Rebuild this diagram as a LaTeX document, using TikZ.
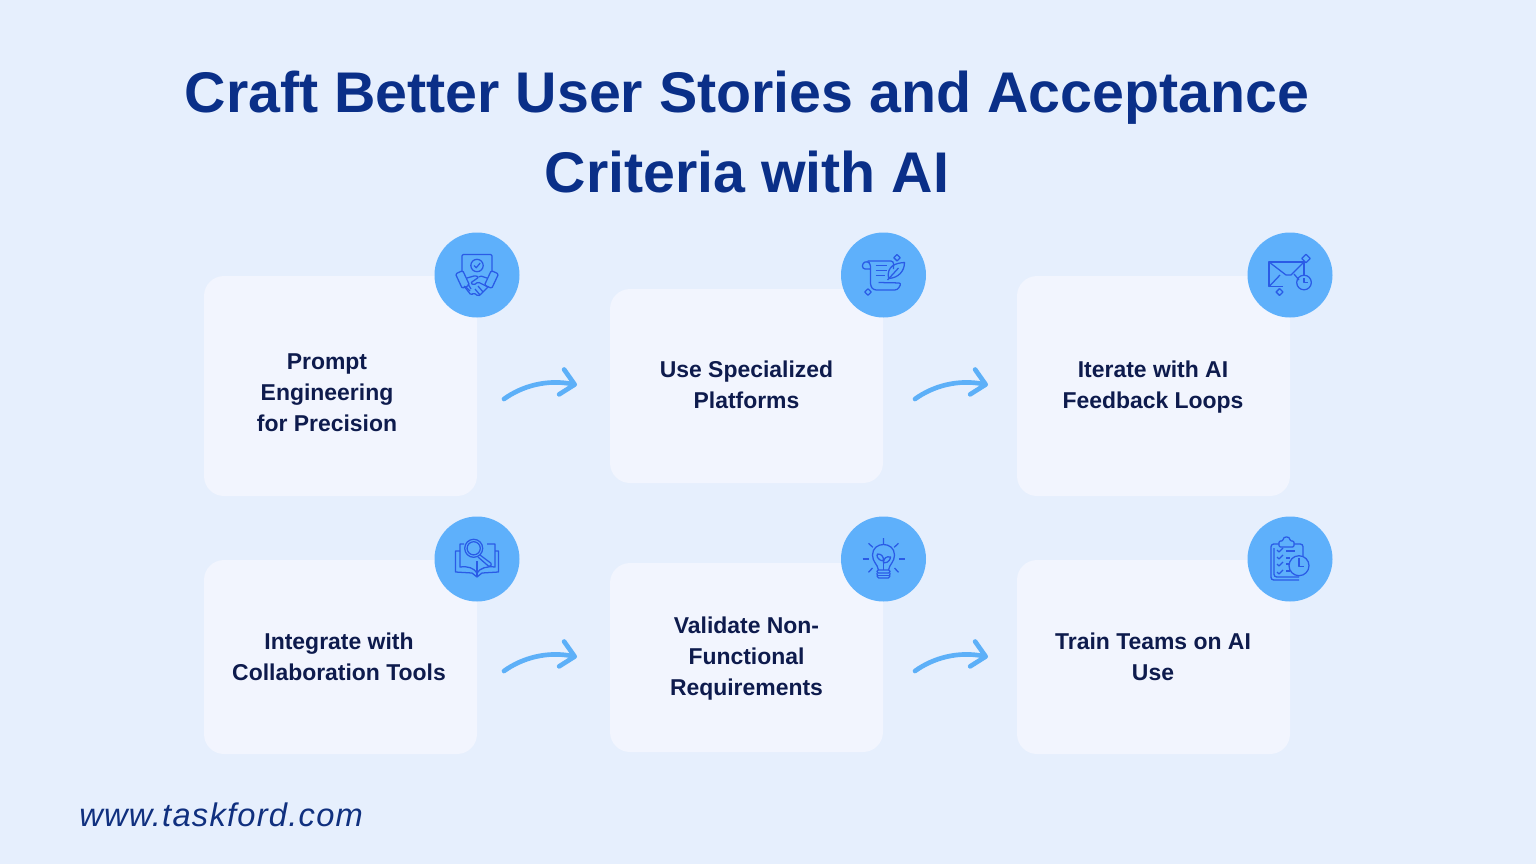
\documentclass[tikz,border=0pt]{standalone}
\usepackage{fontspec}
\setmainfont{Liberation Sans}
\usetikzlibrary{arrows.meta}
\definecolor{pagebg}{HTML}{E6EFFD}
\definecolor{cardbg}{HTML}{F2F5FE}
\definecolor{ballblue}{HTML}{5EB0FB}
\definecolor{iconblue}{HTML}{2A5BE6}
\definecolor{titleblue}{HTML}{0A2F88}
\definecolor{labelblue}{HTML}{0E1B4D}
\definecolor{urlblue}{HTML}{10307F}
\definecolor{arrowblue}{HTML}{5DB0F8}
\tikzset{
sparkle/.pic={
  \draw (0,-#1) .. controls ({0.3*#1},{-0.4*#1}) and ({0.4*#1},{-0.3*#1}) .. (#1,0)
    .. controls ({0.4*#1},{0.3*#1}) and ({0.3*#1},{0.4*#1}) .. (0,#1)
    .. controls ({-0.3*#1},{0.4*#1}) and ({-0.4*#1},{0.3*#1}) .. (-#1,0)
    .. controls ({-0.4*#1},{-0.3*#1}) and ({-0.3*#1},{-0.4*#1}) .. (0,-#1);
  },
handshake/.pic={
  \draw[rounded corners=1] (-15,-3) -- (-15,-20.5) -- (15,-20.5) -- (15,-3);
  \draw (0,-9.5) circle (6.2);
  \draw (-3,-9.5) -- (-0.8,-7.2) -- (3.2,-12);
  \draw[rounded corners=1,rotate around={25:(-14.5,4.5)}] (-18.5,-3.5) rectangle (-10.5,12.5);
  \draw[rounded corners=1,rotate around={-25:(14.5,4.5)}] (10.5,-3.5) rectangle (18.5,12.5);
  \draw[rounded corners=1] (-10,3) -- (-2,0.7) -- (2,2) -- (-6.5,8) -- (-3,10) -- (1,7) -- (11,12);
  \draw[rounded corners=1] (10,3) -- (3,0.7) -- (2,2);
  \draw[rounded corners=1] (-13,11) -- (-6,20) -- (-3,18) -- (1,21) -- (3,20);
  \draw (3,20) -- (11,12);
  \draw (-9,9) -- (-6,14) (-11,12) -- (-7,16) (-2,14) -- (3,20) (1,11) -- (6,17);
  },
scroll/.pic={
  \draw[rounded corners=2] (-16,-14) -- (10,-14) -- (10,-6);
  \draw[rounded corners=2] (-13,-6) -- (-21,-6) -- (-21,-12) -- (-16,-14) -- (-13,-11) -- (-13,11) -- (-10,15) -- (14,15) -- (18,8) -- (-5,7.5);
  \draw (-8,-9.5) -- (3,-9.5) (-8,-4.5) -- (3,-4.5) (-8,0.5) -- (1,0.5);
  \draw (5,3.5) .. controls (3,-9) and (12,-12) .. (21,-12.5) .. controls (21,-4) and (15,3) .. (5,3.5);
  \draw (4,5) -- (15,-7);
  \pic at (13.5,-17.3) {sparkle=3.2};
  \pic at (-15.5,17) {sparkle=3.2};
  },
envelope/.pic={
  \draw (-7,11.7) -- (-21,11.7) -- (-21,-13) -- (14,-13) -- (14,0);
  \draw (-21,-13) -- (-4,0) -- (1,0) -- (14,-13);
  \draw (-21,11.7) -- (-10,0) (4,-1) -- (9,5);
  \draw (14,7.5) circle (7.3);
  \draw (14,3) -- (14,7.5) -- (18,7.5);
  \pic at (16,-16.5) {sparkle=4.2};
  \pic at (-10.5,17) {sparkle=3.4};
  },
lensbook/.pic={
  \draw (-3.3,-10.7) circle (9);
  \draw (-3.3,-10.7) circle (6.6);
  \draw[rounded corners=1] (3,-4) -- (15,5) -- (12.5,8) -- (1,-2);
  \draw (-17,-8) -- (-21.5,-8) -- (-21.5,13) -- (-5,14) -- (0,18) -- (5,14) -- (21.5,13) -- (21.5,-8) -- (18,-8);
  \draw (-13,-15) -- (-17,-15) -- (-17,8) .. controls (-9,7) and (-3,9) .. (0,14) .. controls (3,9) and (10,7) .. (18,8) -- (18,-15) -- (10,-15);
  \draw (0,2) -- (0,18);
  },
bulbplant/.pic={
  \draw (-5,11) .. controls (-6,5) and (-11,3) .. (-11,-4) .. controls (-11,-18) and (11,-18) .. (11,-4) .. controls (11,3) and (6,5) .. (5,11);
  \draw[rounded corners=1] (-6.5,11) rectangle (6.5,14);
  \draw[rounded corners=1] (-6.5,14) -- (-6,19) -- (6,19) -- (6.5,14);
  \draw (-6,16.5) -- (6,16.5);
  \draw (0,11) -- (0,-1);
  \draw (0,2) .. controls (-7,1) and (-7,-4) .. (-6,-5) .. controls (-2,-5) and (0,-3) .. (0,2);
  \draw (0,4) .. controls (6,4) and (7,-1) .. (7,-2) .. controls (3,-3) and (0,-1) .. (0,4);
  \draw (0,-21) -- (0,-15) (-15,-15.7) -- (-10.7,-11.7) (15,-15.7) -- (10.7,-11.7);
  \draw (-21,0) -- (-15,0) (21,0) -- (15,0);
  \draw (-15,13.3) -- (-11,9) (15,13.3) -- (11,9);
  },
checkboard/.pic={
  \draw[rounded corners=2] (-11,-15) -- (-19,-15) -- (-19,21) -- (9,21);
  \draw[rounded corners=2] (-16,-11) -- (-16,18) -- (9,18);
  \draw[rounded corners=2] (13,-3) -- (13,-15) -- (4,-15);
  \draw[rounded corners=1] (-11,-12) -- (-11,-18) -- (-7,-18) .. controls (-7,-23) and (0,-23) .. (0,-18) -- (4,-18) -- (4,-12) -- cycle;
  \foreach \Row in {-9,-2,5,13}
    \draw (-13,\Row) -- (-11,\Row+2) -- (-7,\Row-2);
  \draw (-4,-8) -- (5,-8);
  \draw (-4,-1) -- (0,-1) (-4,5) -- (-1,5) (-4,12) -- (0,12);
  \draw (9,6.7) circle (10);
  \draw (9,-1) -- (9,7.5) -- (14,7.5);
  },
card/.style={
  fill=cardbg,
  rounded corners=15pt,
  minimum width=204.75pt,
  inner sep=0pt
  },
iconball/.style={
  circle,
  fill=ballblue,
  minimum size=63.75pt,
  inner sep=0pt
  },
cardlabel/.style={
  align=center,
  text=labelblue,
  font=\fontsize{17.2}{23.25}\selectfont\bfseries
  },
flowarrow/.style={
  draw=arrowblue,
  line width=3.5pt,
  line cap=round,
  -{Straight Barb[length=10pt,width=19pt,round]}
  },
iconline/.style={
  draw=iconblue,
  line width=0.95pt,
  line join=round
  }
}
\begin{document}
\begin{tikzpicture}[x=0.75pt,y=-0.75pt]
\fill[pagebg] (0,0) rectangle (1536,864);
\useasboundingbox (0,0) rectangle (1536,864);
\node[align=center,text=titleblue,font=\fontsize{43}{59.3}\selectfont\bfseries] (title) at (747,132) {Craft Better User Stories and Acceptance\\Criteria with AI};
% cards
\foreach \Name/\X/\Y/\H in {c1/340.5/386/165,c2/746.5/386/145.5,c3/1153.5/386/165,c4/340.5/657/145.5,c5/746.5/657.5/141.75,c6/1153.5/657/145.5}
  \node[card,minimum height=\H pt] (\Name) at (\X,\Y) {};
% badges
\foreach \Name/\X/\Y/\Icon in {b1/477/275/handshake,b2/883.5/275/scroll,b3/1290/275/envelope,b4/477/559/lensbook,b5/883.5/559/bulbplant,b6/1290/559/checkboard}{
  \node[iconball] (\Name) at (\X,\Y) {};
  \pic[iconline] at (\Name) {\Icon};
}
% labels
\node[cardlabel] (t1) at (327,392.5) {Prompt\\Engineering\\for Precision};
\node[cardlabel] (t2) at (746.5,385) {Use Specialized\\Platforms};
\node[cardlabel] (t3) at (1153,387) {Iterate with AI\\Feedback Loops};
\node[cardlabel] (t4) at (339,657) {Integrate with\\Collaboration Tools};
\node[cardlabel] (t5) at (746.5,659) {Validate Non-\\Functional\\Requirements};
\node[cardlabel] (t6) at (1153,657) {Train Teams on AI\\Use};
% arrows
\foreach \Name/\X/\Y in {a1/504/399,a2/915/399,a3/504/671,a4/915/671}{
  \coordinate (\Name s) at (\X,\Y);
  \coordinate (\Name e) at (\X+73,\Y-14);
  \draw[flowarrow] (\Name s) .. controls +(18,-13) and +(-30,-6) .. (\Name e);
}
\node[anchor=west,text=urlblue,inner sep=0pt,font=\fontsize{24.5}{30}\selectfont\itshape\addfontfeatures{LetterSpace=3.8}] (url) at (79,815) {www.taskford.com};
\end{tikzpicture}
\end{document}
